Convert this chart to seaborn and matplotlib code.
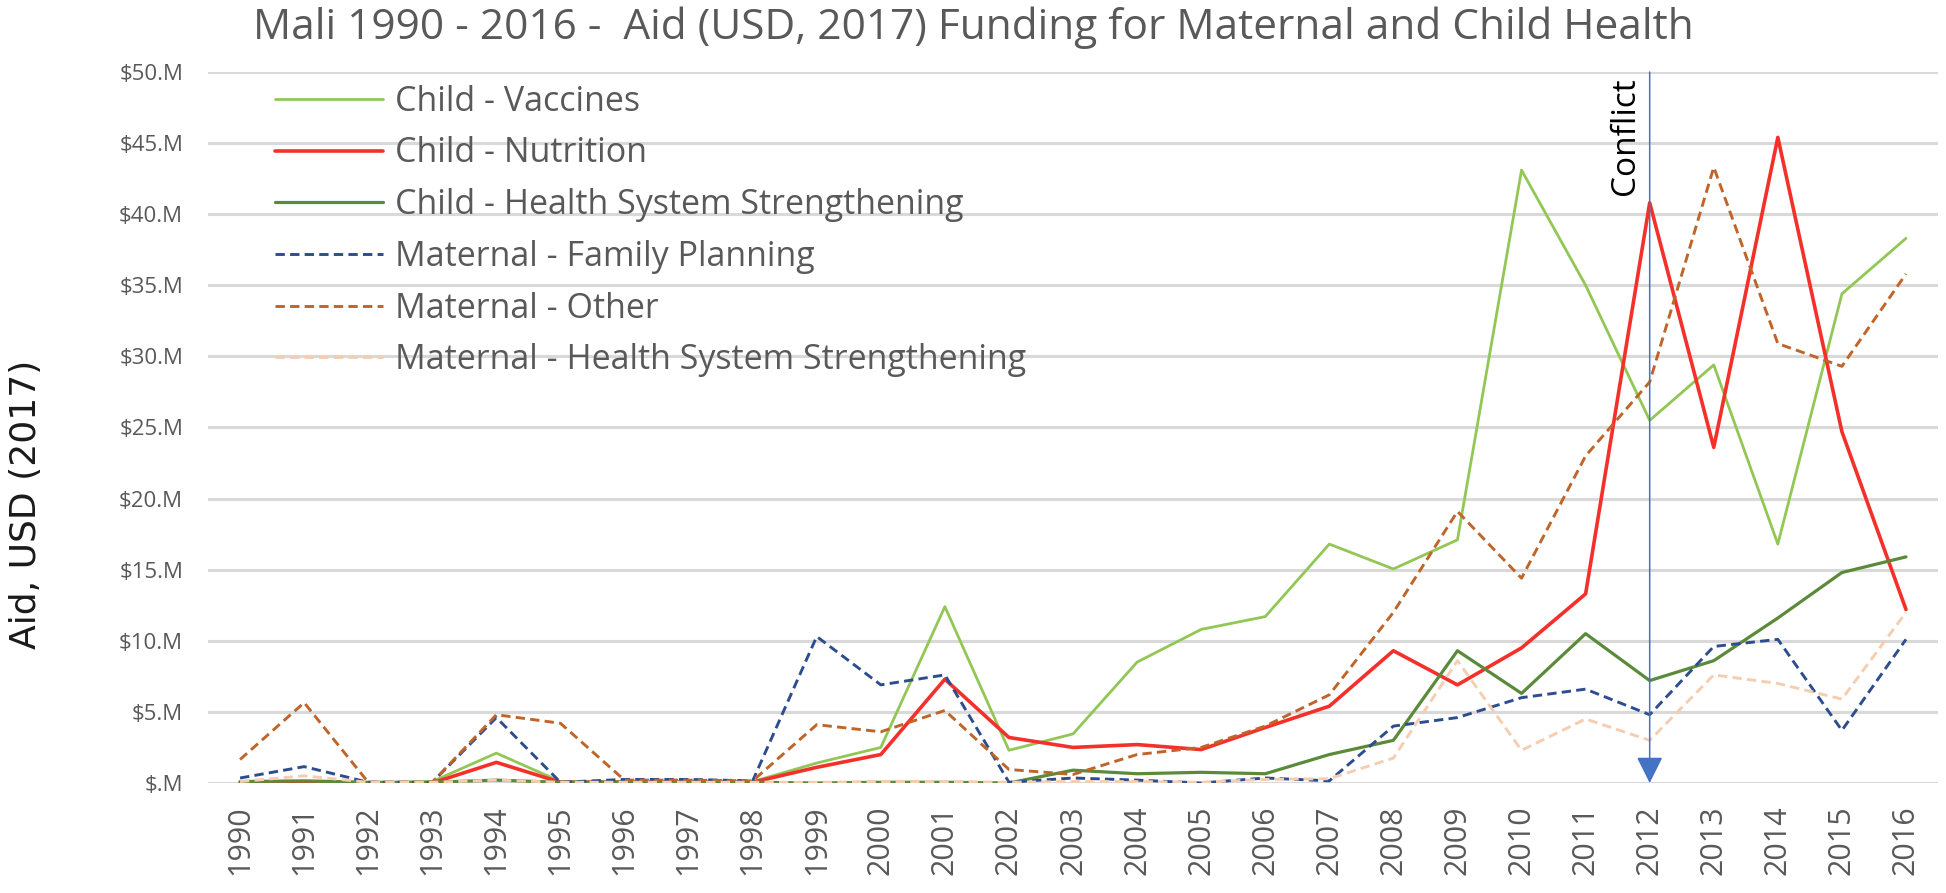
import pandas as pd
import matplotlib.pyplot as plt
import seaborn as sns

# Data (USD millions, 2017)
years = list(range(1990, 2017))

child_vaccines = [0.05, 0.1, 0.0, 0.1, 2.1, 0.1, 0.1, 0.1, 0.1, 1.4, 2.5, 12.4, 2.3, 3.45,
                  8.5, 10.8, 11.7, 16.8, 15.05, 17.1, 43.1, 35.0, 25.5, 29.4, 16.8, 34.4, 38.3]
child_nutrition = [0.0, 0.0, 0.0, 0.0, 1.45, 0.05, 0.05, 0.05, 0.05, 1.1, 2.0, 7.3, 3.2, 2.5,
                   2.7, 2.35, 3.9, 5.4, 9.3, 6.9, 9.5, 13.3, 40.8, 23.6, 45.4, 24.7, 12.2]
child_hss = [0.1, 0.15, 0.05, 0.05, 0.2, 0.05, 0.05, 0.05, 0.05, 0.0, 0.05, 0.05, 0.0, 0.9,
             0.65, 0.75, 0.65, 2.0, 3.0, 9.3, 6.3, 10.5, 7.2, 8.6, 11.6, 14.8, 15.9]
maternal_fp = [0.35, 1.15, 0.05, 0.05, 4.6, 0.05, 0.25, 0.25, 0.15, 10.3, 6.9, 7.6, 0.05, 0.35,
               0.2, 0.0, 0.35, 0.15, 4.0, 4.6, 6.0, 6.6, 4.8, 9.6, 10.1, 3.7, 10.1]
maternal_other = [1.65, 5.65, 0.05, 0.05, 4.8, 4.2, 0.2, 0.2, 0.15, 4.1, 3.6, 5.1, 0.95, 0.6,
                  2.0, 2.5, 4.0, 6.2, 12.0, 19.1, 14.4, 23.0, 28.2, 43.3, 30.9, 29.3, 35.8]
maternal_hss = [0.1, 0.5, 0.05, 0.05, 0.2, 0.05, 0.05, 0.05, 0.05, 0.05, 0.1, 0.1, 0.05, 0.1,
                0.1, 0.05, 0.25, 0.3, 1.75, 8.6, 2.3, 4.5, 3.0, 7.6, 7.0, 5.9, 12.0]

series_names = ['Child - Vaccines', 'Child - Nutrition', 'Child - Health System Strengthening',
                'Maternal - Family Planning', 'Maternal - Other',
                'Maternal - Health System Strengthening']
series_values = [child_vaccines, child_nutrition, child_hss,
                 maternal_fp, maternal_other, maternal_hss]

yticks = [0, 5, 10, 15, 20, 25, 30, 35, 40, 45, 50]
ytick_labels = ['$.M', '$5.M', '$10.M', '$15.M', '$20.M', '$25.M', '$30.M',
                '$35.M', '$40.M', '$45.M', '$50.M']
conflict_year = 2012

# styling
colors = ['#92C756', '#F4302A', '#5A8A3A', '#2E4D8F', '#C0652A', '#F5CDB0']
widths = [2.0, 2.6, 2.3, 2.1, 2.1, 2.1]
dashed = [False, False, False, True, True, True]

sns.set_style('white')
plt.rcParams['font.family'] = ['Open Sans', 'DejaVu Sans']

fig = plt.figure(figsize=(19.46, 8.93), dpi=100)
ax = fig.add_axes([0.1069, 0.1232, 0.8890, 0.7962])

df = pd.DataFrame({'Year': years})
for name, vals in zip(series_names, series_values):
    df[name] = vals

for name, c, w, d in zip(series_names, colors, widths, dashed):
    sns.lineplot(data=df, x='Year', y=name, ax=ax, color=c, linewidth=w, label=name)
    if d:
        ax.lines[-1].set_dashes((3.2, 1.8))

ax.set_xlim(years[0] - 0.5, years[-1] + 0.5)
ax.set_ylim(0, 50)
ax.set_xticks(years)
ax.set_xticklabels([str(y) for y in years], rotation=90, fontsize=22, color='#595959')
ax.set_yticks(yticks)
ax.set_yticklabels(ytick_labels, fontsize=16, color='#595959')
ax.tick_params(axis='both', length=0)
ax.tick_params(axis='x', pad=16)
ax.tick_params(axis='y', pad=18)
ax.set_xlabel('')
ax.set_ylabel('')
ax.yaxis.grid(True, color='#D9D9D9', linewidth=2.2)
ax.xaxis.grid(False)
ax.set_axisbelow(True)
for s in ax.spines.values():
    s.set_visible(False)

# conflict marker
ax.annotate('', xy=(conflict_year, 0), xytext=(conflict_year, 50),
            arrowprops=dict(arrowstyle='-|>,head_length=0.4,head_width=0.2', color='#4472C4',
                            lw=1.1, mutation_scale=41, shrinkA=0, shrinkB=0))
ax.text(conflict_year - 0.12, 49.6, 'Conflict', rotation=90, ha='right', va='top',
        fontsize=24, color='black')

leg = ax.legend(loc='upper left', bbox_to_anchor=(0.039, 0.982), frameon=False,
                fontsize=24.5, handlelength=3.15, handletextpad=0.35, labelspacing=0.52,
                borderpad=0, borderaxespad=0)
for t in leg.get_texts():
    t.set_color('#595959')

fig.text(0.5, 0.993, 'Mali 1990 - 2016 -  Aid (USD, 2017) Funding for Maternal and Child Health',
         ha='center', va='top', fontsize=30.5, color='#595959')
fig.text(0.0135, 0.435, 'Aid, USD (2017)', rotation=90, ha='center', va='center',
         fontsize=26, color='#1a1a1a', family='DejaVu Sans')

fig.savefig('out.png', dpi=100)
